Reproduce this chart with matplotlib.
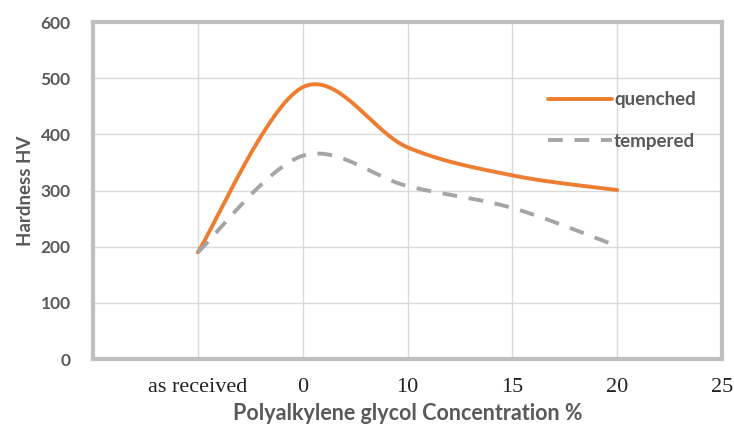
import numpy as np
import matplotlib.pyplot as plt

categories = ["as received", "0", "10", "15", "20", "25"]
quenched = [190, 484, 377, 327, 301]
tempered = [190, 362, 308, 269, 201]


def smooth(xs, ys, n=40):
    # Excel-style smoothed line (Catmull-Rom as cubic Bezier)
    pts = np.column_stack([xs, ys]).astype(float)
    out = []
    for i in range(len(pts) - 1):
        p0 = pts[i - 1] if i > 0 else pts[i]
        p1 = pts[i]
        p2 = pts[i + 1]
        p3 = pts[i + 2] if i + 2 < len(pts) else pts[i + 1]
        c1 = p1 + (p2 - p0) / 6
        c2 = p2 - (p3 - p1) / 6
        t = np.linspace(0, 1, n)[:, None]
        seg = ((1 - t) ** 3) * p1 + 3 * ((1 - t) ** 2) * t * c1 + 3 * (1 - t) * t ** 2 * c2 + t ** 3 * p2
        out.append(seg if i == 0 else seg[1:])
    seg = np.vstack(out)
    return seg[:, 0], seg[:, 1]


fig = plt.figure(figsize=(7.34, 4.33), dpi=100)
ax = fig.add_axes([0.1267, 0.1709, 0.857, 0.778])

x = np.arange(1, len(quenched) + 1)
qx, qy = smooth(x, quenched)
tx, ty = smooth(x, tempered)
ax.plot(qx, qy, color="#ed7d31", lw=2.8, solid_capstyle="round", label="quenched", zorder=3)
ax.plot(tx, ty, color="#a5a5a5", lw=2.8, dashes=(3.8, 3.0), label="tempered", zorder=3)

ax.set_xlim(0, len(categories))
ax.set_ylim(0, 600)
ax.set_xticks(np.arange(1, len(categories) + 1))
ax.set_xticklabels(categories, family="Liberation Serif", fontsize=16, color="#222222")
ax.set_yticks(np.arange(0, 601, 100))
ax.tick_params(axis="y", labelsize=12.5, labelcolor="#595959", length=0, pad=16)
ax.tick_params(axis="x", length=0, pad=14)
for lab in ax.get_yticklabels():
    lab.set_fontweight("bold")
    lab.set_family("Lato")

ax.grid(True, color="#d9d9d9", lw=1)
ax.set_axisbelow(True)
for s in ax.spines.values():
    s.set_color("#bfbfbf")
    s.set_linewidth(3)

ax.set_ylabel("Hardness HV", fontsize=13.5, fontweight="bold", color="#595959", family="Lato", labelpad=5)
ax.set_xlabel("Polyalkylene glycol Concentration %", fontsize=15.5, fontweight="bold", color="#595959",
              family="Lato", labelpad=4)

leg = ax.legend(loc="upper right", bbox_to_anchor=(0.985, 0.845), frameon=False, handlelength=3.4,
                handletextpad=0.1, labelspacing=1.3, prop={"family": "Lato", "weight": "bold", "size": 13.5})
for t in leg.get_texts():
    t.set_color("#595959")

fig.savefig("out.png", dpi=100)
